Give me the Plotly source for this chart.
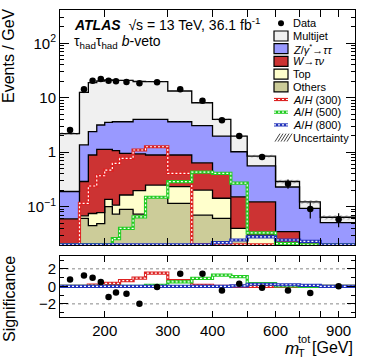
import numpy as np
import plotly.graph_objects as go

# ---------------- data ----------------
edges = [150, 170, 180, 190, 200, 210, 220, 240, 260, 300, 350, 400, 450, 500, 600, 700, 800, 1000]

others   = [0.001, 0.061, 0.045, 0.049, 0.100, 0.073, 0.089, 0.073, 0.148, 0.115, 0.070, 0.061, 0.0245, 0.012, 0.006, 0.003, 0.002]
top      = [0.000, 0.007, 0.030, 0.029, 0.036, 0.034, 0.075, 0.124, 0.102, 0.118, 0.132, 0.082, 0.0155, 0.018, 0.006, 0.003, 0.002]
wtaunu   = [0.059, 0.222, 0.815, 1.052, 0.994, 0.963, 0.786, 0.733, 0.640, 0.657, 0.438, 0.267, 0.112, 0.093, 0.023, 0.006, 0.004]
ztautau  = [0.130, 1.070, 1.490, 2.030, 2.410, 2.560, 2.680, 3.070, 3.110, 2.740, 2.430, 1.570, 0.868, 0.437, 0.195, 0.081, 0.043]
multijet = [2.01, 11.24, 16.52, 17.14, 17.66, 17.17, 17.17, 15.90, 15.70, 9.67, 5.03, 2.02, 0.96, 0.29, 0.06, 0.03, 0.013]
bkg_unc  = [0.12, 0.45, 0.60, 0.60, 0.60, 0.60, 0.60, 0.55, 0.50, 0.40, 0.25, 0.15, 0.08, 0.05, 0.022, 0.010, 0.006]

data     = [2.56, 14.3, 20.5, 22.0, 20.5, 20.0, 19.4, 18.4, 19.2, 14.3, 8.8, 3.85, 1.99, 0.82, 0.264, 0.091, 0.059]
data_err = [0.36, 1.20, 1.43, 1.48, 1.43, 1.41, 0.98, 0.96, 0.69, 0.53, 0.42, 0.28, 0.20, 0.091, 0.051, 0.030, 0.017]

ah300 = [0.02, 0.115, 0.24, 0.37, 0.47, 0.625, 0.77, 1.10, 1.26, 0.41, 0.02, 0.02, 0.02, 0.02, 0.02, 0.02, 0.02]
ah500 = [0.02, 0.02, 0.02, 0.02, 0.02, 0.026, 0.040, 0.065, 0.149, 0.288, 0.43, 0.41, 0.27, 0.033, 0.021, 0.02, 0.02]
ah800 = [0.02, 0.02, 0.02, 0.02, 0.02, 0.02, 0.02, 0.02, 0.02, 0.02, 0.02, 0.022, 0.0245, 0.028, 0.0245, 0.023, 0.02]

sig_data  = [0.77, 1.23, 0.97, 0.50, -1.23, -0.69, -0.84, -2.0, -0.08, 1.43, 1.43, -0.46, 0.31, -0.15, -0.46, -0.76, 0.0]
sig_ah300 = [0.0, 0.0, 0.14, 0.14, 0.33, 0.33, 0.65, 0.95, 1.50, 0.65, 0.10, 0.0, 0.0, 0.0, 0.0, 0.0, 0.0]
sig_ah500 = [0.0, 0.0, 0.0, 0.0, 0.0, 0.0, 0.0, 0.0, 0.12, 0.50, 0.92, 1.28, 1.10, 0.30, 0.05, 0.0, 0.0]
sig_ah800 = [0.0, 0.0, 0.0, 0.0, 0.0, 0.0, 0.0, 0.0, 0.0, 0.0, 0.0, 0.0, 0.05, 0.24, 0.18, 0.12, 0.0]

x_tickvals = [200, 300, 400, 500, 600, 700, 800, 900]
x_ticktext = ["200", "300", "400", " ", "600", " ", " ", "900"]
y_tickvals = [0.1, 1, 10, 100]
y_ticktext = ["10<sup>\u22121</sup>", "1", "10", "10<sup>2</sup>"]
r_tickvals = [-2, 0, 2]
r_ticktext = ["\u22122", "0", "2"]

legend_labels = ["Data", "Multijet", "<i>Z</i>/<i>\u03b3</i><sup>*</sup>\u2192<i>\u03c4\u03c4</i>",
                 "<i>W</i>\u2192<i>\u03c4\u03bd</i>", "Top", "Others",
                 "<i>A</i>/<i>H</i> (300)", "<i>A</i>/<i>H</i> (500)", "<i>A</i>/<i>H</i> (800)", "Uncertainty"]

# ---------------- styles ----------------
C_MJ = "#f0f0f0"
C_Z = "#9999ff"
C_W = "#cc3333"
C_TOP = "#ffffcc"
C_OTH = "#cccc99"
C_S300 = "#dd2222"
C_S500 = "#22cc22"
C_S800 = "#2233bb"
FONT = "Liberation Sans"

W, H = 374, 361
L, R, T, B = 60, 19, 10, 44
PW, PH = W - L - R, H - T - B


def px2x(px):
    return (px - L) / PW


def py2y(py):
    return (H - B - py) / PH


def step(vals):
    return list(vals) + [vals[-1]]


centers = [(a + b) / 2 for a, b in zip(edges[:-1], edges[1:])]

fig = go.Figure()

# stacked backgrounds
comps = [others, top, wtaunu, ztautau, multijet]
colors = [C_OTH, C_TOP, C_W, C_Z, C_MJ]
cum = np.cumsum(np.array(comps), axis=0)

fig.add_trace(go.Scatter(x=edges, y=[1e-5] * len(edges), mode="lines", line=dict(width=0),
                         hoverinfo="skip", showlegend=False, xaxis="x", yaxis="y"))
for c, col in zip(cum, colors):
    fig.add_trace(go.Scatter(x=edges, y=step(c), mode="lines", line=dict(color="black", width=1.3, shape="hv"),
                             fill="tonexty", fillcolor=col, showlegend=False, xaxis="x", yaxis="y"))

total = cum[-1]
lo = [t - u for t, u in zip(total, bkg_unc)]
hi = [t + u for t, u in zip(total, bkg_unc)]
fig.add_trace(go.Scatter(x=edges, y=step(lo), mode="lines", line=dict(width=0, shape="hv"),
                         showlegend=False, xaxis="x", yaxis="y"))
fig.add_trace(go.Scatter(x=edges, y=step(hi), mode="lines", line=dict(width=0, shape="hv"),
                         fill="tonexty", fillcolor="rgba(0,0,0,0)",
                         fillpattern=dict(shape="/", fgcolor="#333333", bgcolor="rgba(0,0,0,0)", size=4, solidity=0.25),
                         showlegend=False, xaxis="x", yaxis="y"))


def dotted_step(vals, col, xa, ya):
    fig.add_trace(go.Scatter(x=edges, y=step(vals), mode="lines", line=dict(color=col, width=3.2, shape="hv"),
                             showlegend=False, xaxis=xa, yaxis=ya))
    fig.add_trace(go.Scatter(x=edges, y=step(vals), mode="lines",
                             line=dict(color="white", width=1.2, shape="hv", dash="2px,2px"),
                             showlegend=False, xaxis=xa, yaxis=ya))


dotted_step(ah300, C_S300, "x", "y")
dotted_step(ah500, C_S500, "x", "y")
dotted_step(ah800, C_S800, "x", "y")

fig.add_trace(go.Scatter(x=centers, y=data, mode="markers",
                         marker=dict(color="black", size=6.5),
                         error_y=dict(type="data", array=data_err, color="black", thickness=1.2, width=0),
                         showlegend=False, xaxis="x", yaxis="y"))

# significance panel
dotted_step(sig_ah300, C_S300, "x2", "y2")
dotted_step(sig_ah500, C_S500, "x2", "y2")
dotted_step(sig_ah800, C_S800, "x2", "y2")
fig.add_trace(go.Scatter(x=centers, y=sig_data, mode="markers", marker=dict(color="black", size=6.5),
                         showlegend=False, xaxis="x2", yaxis="y2"))

shapes = []
for gv in [2, -2]:
    shapes.append(dict(type="line", xref="x2 domain", yref="y2", x0=0, x1=1, y0=gv, y1=gv,
                       line=dict(color="#888888", width=1, dash="dot"), layer="below"))

annotations = []
# legend
row0, drow = 23.3, 12.7
bx0, bx1 = 274, 288
for i, lab in enumerate(legend_labels):
    yc = row0 + drow * i
    annotations.append(dict(text=lab, x=px2x(291), y=py2y(yc), xref="paper", yref="paper",
                            xanchor="left", yanchor="middle", showarrow=False,
                            font=dict(family=FONT, size=11, color="black")))
    if i == 0:
        shapes.append(dict(type="circle", xref="paper", yref="paper",
                           x0=px2x(281 - 3), x1=px2x(281 + 3), y0=py2y(yc + 3), y1=py2y(yc - 3),
                           fillcolor="black", line=dict(color="black", width=0)))
    elif 1 <= i <= 5:
        col = [C_MJ, C_Z, C_W, C_TOP, C_OTH][i - 1]
        shapes.append(dict(type="rect", xref="paper", yref="paper",
                           x0=px2x(bx0), x1=px2x(bx1), y0=py2y(yc + 5), y1=py2y(yc - 5),
                           fillcolor=col, line=dict(color="black", width=1.2)))
    elif 6 <= i <= 8:
        col = [C_S300, C_S500, C_S800][i - 6]
        shapes.append(dict(type="line", xref="paper", yref="paper",
                           x0=px2x(bx0), x1=px2x(bx1), y0=py2y(yc), y1=py2y(yc),
                           line=dict(color=col, width=3.2)))
        shapes.append(dict(type="line", xref="paper", yref="paper",
                           x0=px2x(bx0), x1=px2x(bx1), y0=py2y(yc), y1=py2y(yc),
                           line=dict(color="white", width=1.2, dash="2px,2px")))
    else:
        for k in range(5):
            xs = bx0 + 1 + k * 3
            shapes.append(dict(type="line", xref="paper", yref="paper",
                               x0=px2x(xs), x1=px2x(xs + 5), y0=py2y(yc + 4), y1=py2y(yc - 4),
                               line=dict(color="#444444", width=1)))

annotations.append(dict(text="<b><i>ATLAS</i></b>  \u221as = 13 TeV, 36.1 fb<sup>-1</sup>",
                        x=px2x(72), y=py2y(24), xref="paper", yref="paper", xanchor="left", yanchor="middle",
                        showarrow=False, font=dict(family=FONT, size=14, color="black")))
annotations.append(dict(text="\u03c4<sub>had</sub>\u03c4<sub>had</sub> <i>b</i>-veto",
                        x=px2x(72), y=py2y(42), xref="paper", yref="paper", xanchor="left", yanchor="middle",
                        showarrow=False, font=dict(family=FONT, size=14, color="black")))
annotations.append(dict(text="Events / GeV", textangle=-90, x=px2x(9), y=py2y(56), xref="paper", yref="paper",
                        xanchor="center", yanchor="middle", showarrow=False,
                        font=dict(family=FONT, size=16, color="black")))
annotations.append(dict(text="Significance", textangle=-90, x=px2x(9), y=py2y(299), xref="paper", yref="paper",
                        xanchor="center", yanchor="middle", showarrow=False,
                        font=dict(family=FONT, size=16, color="black")))
annotations.append(dict(text="<i>m</i>", x=px2x(283), y=py2y(348), xref="paper", yref="paper",
                        xanchor="left", yanchor="middle", showarrow=False,
                        font=dict(family=FONT, size=17, color="black")))
annotations.append(dict(text="tot", x=px2x(296), y=py2y(339), xref="paper", yref="paper",
                        xanchor="left", yanchor="middle", showarrow=False,
                        font=dict(family=FONT, size=11, color="black")))
annotations.append(dict(text="T", x=px2x(296), y=py2y(353), xref="paper", yref="paper",
                        xanchor="left", yanchor="middle", showarrow=False,
                        font=dict(family=FONT, size=11, color="black")))
annotations.append(dict(text="[GeV]", x=px2x(355), y=py2y(347), xref="paper", yref="paper",
                        xanchor="right", yanchor="middle", showarrow=False,
                        font=dict(family=FONT, size=16, color="black")))

xr = [np.log10(edges[0]), np.log10(edges[-1])]
main_bottom = py2y(245)
ratio_top = py2y(255.7)

minor_y = [m * 10.0 ** d for d in range(-2, 3) for m in range(2, 10)]

axis_common = dict(showline=True, linecolor="black", linewidth=1, mirror="ticks", ticks="inside",
                   tickcolor="black", showgrid=False, zeroline=False,
                   tickfont=dict(family=FONT, size=15, color="black"))

fig.update_layout(
    width=W, height=H, margin=dict(l=L, r=R, t=T, b=B, pad=0),
    paper_bgcolor="white", plot_bgcolor="white", showlegend=False,
    font=dict(family=FONT, color="black"),
    xaxis=dict(type="log", range=xr, domain=[0, 1], anchor="y", tickvals=x_tickvals, showticklabels=False,
               ticklen=7, **axis_common),
    yaxis=dict(type="log", range=[-1.703, 2.611], domain=[main_bottom, 1], anchor="x",
               tickvals=y_tickvals, ticktext=y_ticktext, ticklen=9,
               minor=dict(tickvals=minor_y, ticklen=4, ticks="inside", tickcolor="black"),
               **axis_common),
    xaxis2=dict(type="log", range=xr, domain=[0, 1], anchor="y2", tickvals=x_tickvals, ticktext=x_ticktext,
                ticklen=6, **axis_common),
    yaxis2=dict(range=[-3.5, 3.5], domain=[0, ratio_top], anchor="x2", tickvals=r_tickvals, ticktext=r_ticktext,
                ticklen=8, minor=dict(dtick=1, ticklen=4, ticks="inside", tickcolor="black"), **axis_common),
    shapes=shapes, annotations=annotations,
)

fig.write_html("out.html", config={"displayModeBar": False},
               post_script="document.body.style.margin='0px';document.body.style.overflow='hidden';")
